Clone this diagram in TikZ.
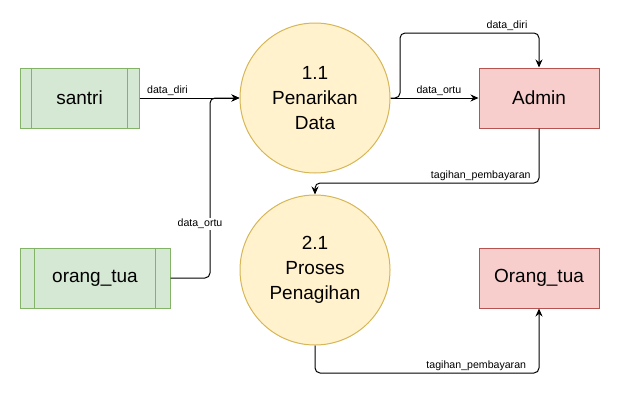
\documentclass[tikz,border=0pt]{standalone}
\usepackage{fontspec}
\setmainfont{Liberation Sans}
\usetikzlibrary{arrows.meta,calc}
\definecolor{gfill}{HTML}{D5E8D4}
\definecolor{gline}{HTML}{82B366}
\definecolor{rfill}{HTML}{F8CECC}
\definecolor{rline}{HTML}{B85450}
\definecolor{yfill}{HTML}{FFF2CC}
\definecolor{yline}{HTML}{D6B656}
\tikzset{
  extbox/.style={draw=gline, fill=gfill, line width=1pt, minimum height=60pt, font=\fontsize{19}{24}\selectfont},
  adminbox/.style={draw=rline, fill=rfill, line width=1pt, minimum width=120pt, minimum height=60pt, font=\fontsize{19}{24}\selectfont},
  proc/.style={circle, draw=yline, fill=yfill, line width=1pt, minimum size=150pt, inner sep=0pt, align=center, font=\fontsize{19}{25}\selectfont},
  arr/.style={-{Stealth[length=8pt,width=7pt]}, line width=1pt, rounded corners=5pt},
  lbl/.style={font=\fontsize{10.6}{12}\selectfont, inner sep=1.5pt},
}
\begin{document}
\begin{tikzpicture}[x=1pt,y=-1pt]
\useasboundingbox (0,0) rectangle (636,418);
\node[extbox, minimum width=119pt] (santri) at (79.5,98) {santri};
\node[extbox, minimum width=150pt] (orangtua) at (95,278) {orang\_tua};
\foreach \n in {santri,orangtua}{
  \draw[gline, line width=1pt] ($(\n.north west)!0.1!(\n.north east)$) -- ($(\n.south west)!0.1!(\n.south east)$);
  \draw[gline, line width=1pt] ($(\n.north west)!0.9!(\n.north east)$) -- ($(\n.south west)!0.9!(\n.south east)$);
}
\node[proc] (p11) at (315,98) {1.1\\Penarikan\\Data};
\node[proc] (p21) at (315,270) {2.1\\Proses\\Penagihan};
\node[adminbox] (admin) at (539,98) {Admin};
\node[adminbox] (ortu2) at (539,278) {Orang\_tua};

\coordinate (b1) at (210,278);
\coordinate (b2) at (210,98);
\coordinate (c1) at (400,98);
\coordinate (c2) at (400,33);
\coordinate (c3) at (539,33);
\coordinate (d1) at (539,183);
\coordinate (d2) at (315,183);
\coordinate (e1) at (315,373);
\coordinate (e2) at (539,373);

\draw[arr] (santri.east) -- node[lbl, above, pos=0.28] {data\_diri} (p11.west);
\draw[arr] (orangtua.east) -- (b1) -- (b2) -- (p11.west);
\node[lbl, fill=white] at (200,224) {data\_ortu};
\draw[arr] (p11.east) -- node[lbl, above, pos=0.55] {data\_ortu} (admin.west);
\draw[arr] (p11.east) -- (c1) -- (c2) -- node[lbl, above, pos=0.77] {data\_diri} (c3) -- (admin.north);
\draw[arr] (admin.south) -- (d1) -- node[lbl, above, pos=0.26] {tagihan\_pembayaran} (d2) -- (p21.north);
\draw[arr] (p21.south) -- (e1) -- node[lbl, above, pos=0.72] {tagihan\_pembayaran} (e2) -- (ortu2.south);
\end{tikzpicture}
\end{document}
